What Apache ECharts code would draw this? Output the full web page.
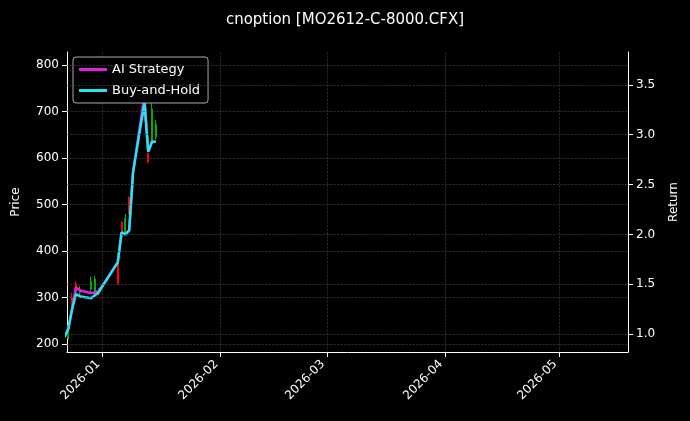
<!DOCTYPE html>
<html>
<head>
<meta charset="UTF-8">
<script src="https://cdn.jsdelivr.net/npm/echarts@6/dist/echarts.min.js"></script>
<style>html,body{margin:0;background:#000;}#box{width:690px;height:421px;}</style>
</head>
<body>
<div id="box"></div>
<script>
const dates = ['2025-12-22','2025-12-23','2025-12-24','2025-12-25','2025-12-26','2025-12-29','2025-12-30','2025-12-31',
  '2026-01-05','2026-01-06','2026-01-07','2026-01-08','2026-01-09','2026-01-12','2026-01-13','2026-01-14','2026-01-15'];
// [open, close, low, high]
const candles = [
  [205,212,200,218],[212,240,210,245],[300,290,280,310],[330,312,305,335],[310,318,305,325],
  [318,335,312,345],[312,340,308,347],[310,316,305,320],
  [372,330,328,375],[462,440,436,465],[440,470,436,480],[515,482,478,518],[560,568,552,575],
  [800,690,680,805],[610,592,588,612],[632,705,628,725],[645,672,640,682]];
const aiReturn = [0.97,1.05,1.25,1.47,1.44,1.41,1.42,1.43,1.72,2.02,2.0,2.04,2.62,3.40,2.83,2.93,2.93];
const bhReturn = [0.97,1.05,1.25,1.40,1.38,1.36,1.39,1.42,1.72,2.02,2.0,2.04,2.62,3.32,2.83,2.93,2.93];
const priceTicks = [200,300,400,500,600,700,800];
const returnTicks = [1.0,1.5,2.0,2.5,3.0,3.5];

const chart = echarts.init(document.getElementById('box'));
const gridLine = {color: '#444', type: 'dashed', width: 0.6};
chart.setOption({
  backgroundColor: '#000',
  animation: false,
  textStyle: {fontFamily: 'DejaVu Sans'},
  title: {text: 'cnoption [MO2612-C-8000.CFX]', left: 'center', top: 8,
    textStyle: {color: '#fff', fontSize: 15, fontWeight: 'normal'}},
  legend: {left: 73, top: 57, orient: 'vertical', itemWidth: 28, itemHeight: 3, itemGap: 8, icon: 'rect',
    backgroundColor: '#000', borderColor: '#aaa', borderWidth: 1, borderRadius: 3, padding: [6, 8, 6, 6],
    textStyle: {color: '#fff', fontSize: 13}, data: ['AI Strategy', 'Buy-and-Hold']},
  grid: {left: 67, right: 62, top: 52, bottom: 69},
  xAxis: {type: 'time', min: '2025-12-22 16:00', max: '2026-05-19',
    minInterval: 28 * 86400000, maxInterval: 31 * 86400000,
    axisLine: {lineStyle: {color: '#fff'}}, axisTick: {lineStyle: {color: '#fff'}},
    axisLabel: {color: '#fff', fontSize: 12, rotate: 45, formatter: '{yyyy}-{MM}', hideOverlap: false, margin: 6,
      padding: [0, 6, 0, 0]},
    splitLine: {show: true, lineStyle: gridLine}},
  yAxis: [
    {type: 'value', name: 'Price', nameLocation: 'middle', nameGap: 45, nameTextStyle: {color: '#fff', fontSize: 12},
      min: 183, max: 828,
      axisLine: {show: true, lineStyle: {color: '#fff'}},
      axisTick: {show: true, customValues: priceTicks},
      axisLabel: {color: '#fff', fontSize: 12, customValues: priceTicks},
      splitLine: {show: false}},
    {type: 'value', name: 'Return', nameLocation: 'middle', nameGap: 40, nameTextStyle: {color: '#fff', fontSize: 12},
      min: 0.82, max: 3.83,
      axisLine: {show: true, lineStyle: {color: '#fff'}},
      axisTick: {show: true, customValues: returnTicks},
      axisLabel: {color: '#fff', fontSize: 12, customValues: returnTicks, formatter: v => v.toFixed(1)},
      splitLine: {show: false}}
  ],
  series: [
    {type: 'candlestick', yAxisIndex: 0, barWidth: 1.5,
      data: dates.map((d, i) => [d].concat(candles[i])),
      itemStyle: {color: '#00b000', color0: '#ff0000', borderColor: '#00b000', borderColor0: '#ff0000', borderWidth: 1},
      markLine: {silent: true, symbol: 'none', label: {show: false}, lineStyle: gridLine,
        data: priceTicks.map(v => ({yAxis: v}))}},
    {name: 'AI Strategy', type: 'line', yAxisIndex: 1, showSymbol: false, color: '#e020e0',
      lineStyle: {width: 2.5}, data: dates.map((d, i) => [d, aiReturn[i]])},
    {name: 'Buy-and-Hold', type: 'line', yAxisIndex: 1, showSymbol: false, color: '#20e8f0',
      lineStyle: {width: 2.5}, data: dates.map((d, i) => [d, bhReturn[i]]),
      markLine: {silent: true, symbol: 'none', label: {show: false}, lineStyle: gridLine,
        data: returnTicks.map(v => ({yAxis: v}))}}
  ]
});
</script>
</body>
</html>
